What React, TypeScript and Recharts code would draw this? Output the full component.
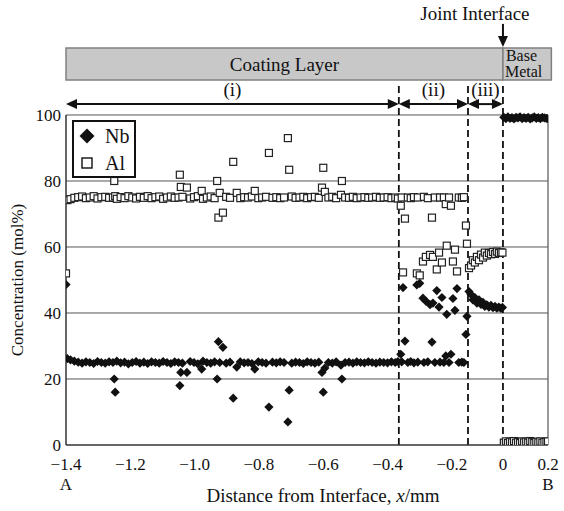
import React from 'react';
import {
  ScatterChart,
  Scatter,
  XAxis,
  YAxis,
  ReferenceLine,
  ReferenceArea,
  Legend,
} from 'recharts';

// ---------- DATA (distance in mm, concentration in mol%) ----------
// Zone (i): coating layer
const zone1Distance = [
  -1.4, -1.396, -1.386, -1.374, -1.362, -1.35, -1.338, -1.326, -1.314, -1.302, -1.29, -1.278, -1.266,
  -1.254, -1.25, -1.247, -1.242, -1.23, -1.218, -1.206, -1.194, -1.182, -1.17, -1.158, -1.146, -1.134,
  -1.122, -1.11, -1.098, -1.086, -1.074, -1.062, -1.05, -1.046, -1.043, -1.038, -1.024, -1.014, -1.002,
  -0.99, -0.978, -0.974, -0.962, -0.95, -0.938, -0.93, -0.926, -0.922, -0.912, -0.902, -0.89, -0.88,
  -0.869, -0.858, -0.846, -0.834, -0.822, -0.813, -0.802, -0.79, -0.778, -0.769, -0.758, -0.746, -0.734,
  -0.722, -0.71, -0.706, -0.698, -0.686, -0.674, -0.662, -0.65, -0.638, -0.626, -0.614, -0.604, -0.6,
  -0.595, -0.584, -0.572, -0.56, -0.545, -0.542, -0.532, -0.52, -0.508, -0.496, -0.484, -0.472, -0.46,
  -0.448, -0.436, -0.424, -0.412, -0.4, -0.388, -0.376, -0.368,
];
const zone1Nb = [
  48.6, 26.2, 25.8, 25.4, 25.1, 24.8, 25.2, 25.0, 24.7, 25.3, 25.0, 24.8, 25.2,
  25.0, 20.0, 16.0, 25.4, 24.9, 25.1, 24.6, 25.0, 25.3, 24.8, 25.1, 24.7, 25.2,
  25.0, 24.8, 25.3, 25.0, 24.7, 25.2, 25.0, 18.0, 22.0, 24.8, 22.0, 25.3, 25.0,
  24.6, 23.0, 25.4, 25.0, 24.8, 25.2, 20.0, 31.3, 25.0, 29.6, 24.8, 25.1, 14.2,
  23.6, 25.2, 24.9, 25.0, 24.7, 23.0, 25.2, 25.0, 24.8, 11.5, 25.1, 24.9, 25.2,
  25.0, 7.0, 16.6, 24.8, 25.1, 25.0, 24.7, 25.2, 25.0, 24.8, 25.1, 22.0, 16.0,
  23.3, 25.0, 24.8, 25.2, 24.2, 20.0, 25.0, 25.1, 24.8, 25.2, 25.0, 24.9, 25.2,
  25.0, 24.8, 25.1, 25.0, 24.9, 25.2, 25.0, 25.3,
];
const zone1Al = [
  52.0, 74.2, 74.5, 74.9, 75.1, 75.3, 74.8, 75.0, 75.4, 74.7, 75.1, 75.2, 74.9,
  75.0, 80.0, 75.4, 74.6, 75.1, 74.8, 75.4, 75.0, 74.7, 75.2, 74.9, 75.4, 74.8,
  75.1, 75.3, 74.6, 75.0, 75.3, 74.9, 75.0, 81.9, 78.2, 75.2, 78.0, 74.7, 75.1,
  75.4, 77.0, 74.6, 75.0, 75.3, 74.8, 80.0, 68.9, 76.4, 70.4, 75.2, 74.9, 85.8,
  76.4, 74.8, 75.1, 75.0, 75.3, 77.0, 74.8, 75.0, 75.2, 88.5, 74.9, 75.1, 74.8,
  75.0, 93.0, 83.4, 75.3, 74.9, 75.0, 75.2, 74.8, 75.1, 75.2, 74.9, 78.0, 84.0,
  76.7, 75.0, 75.2, 74.8, 75.8, 80.0, 75.0, 74.9, 75.2, 74.8, 75.0, 75.1, 74.9,
  75.0, 75.2, 74.9, 75.0, 75.1, 74.8, 75.0, 74.7,
];

// Zone (ii)
const zone2Distance = [
  -0.359, -0.356, -0.352, -0.346, -0.337, -0.328, -0.318, -0.309, -0.306, -0.3, -0.29, -0.287,
  -0.281, -0.275, -0.268, -0.262, -0.259, -0.253, -0.247, -0.24, -0.237, -0.231, -0.225, -0.219,
  -0.216, -0.209, -0.203, -0.196, -0.188, -0.18, -0.173, -0.161, -0.153, -0.145, -0.141,
];
const zone2Nb = [
  27.5, 25.2, 47.7, 31.5, 25.0, 25.3, 24.9, 48.5, 25.1, 49.0, 44.5, 25.0,
  43.6, 25.2, 42.5, 31.2, 43.0, 25.0, 46.8, 41.8, 25.1, 44.7, 25.0, 27.0,
  39.6, 25.0, 27.5, 44.4, 40.8, 47.4, 25.0, 25.1, 25.0, 33.5, 39.0,
];
const zone2Al = [
  72.5, 75.0, 52.3, 68.6, 75.0, 74.8, 75.1, 52.0, 75.0, 51.4, 55.6, 75.2,
  57.0, 74.8, 57.6, 68.9, 57.0, 75.0, 53.2, 58.3, 75.0, 55.3, 75.0, 73.0,
  60.4, 75.0, 72.5, 55.6, 59.2, 52.6, 75.0, 74.9, 75.1, 66.5, 61.0,
];

// Zone (iii)
const zone3Distance = [
  -0.133, -0.125, -0.118, -0.11, -0.102, -0.094, -0.086, -0.078, -0.071, -0.063, -0.055, -0.047,
  -0.039, -0.031, -0.024, -0.016, -0.008, -0.002,
];
const zone3Nb = [
  46.5, 45.6, 44.0, 44.7, 43.0, 44.0, 42.6, 43.2, 42.0, 42.5, 41.8, 42.3, 41.6, 42.0, 41.5, 41.8, 41.4, 41.7,
];
const zone3Al = [
  53.6, 54.4, 56.0, 55.3, 57.0, 56.0, 57.7, 56.8, 58.3, 57.4, 58.2, 57.8, 58.5, 57.9, 58.6, 58.2, 58.4, 58.3,
];

// Base metal
const baseDistance = [
  0.004, 0.013, 0.022, 0.031, 0.04, 0.049, 0.058, 0.067, 0.076, 0.085, 0.094, 0.103, 0.112, 0.121,
  0.13, 0.139, 0.148, 0.157, 0.166, 0.175, 0.184, 0.193, 0.2,
];
const baseNb = [
  99.3, 98.9, 99.4, 99.0, 99.2, 98.8, 99.3, 99.1, 99.4, 98.9, 99.2, 99.0, 99.3, 98.8,
  99.1, 99.4, 99.0, 99.2, 98.9, 99.3, 99.1, 99.0, 98.9,
];
const baseAl = [
  0.7, 1.1, 0.6, 1.0, 0.8, 1.2, 0.7, 0.9, 0.6, 1.1, 0.8, 1.0, 0.7, 1.2,
  0.9, 0.6, 1.0, 0.8, 1.1, 0.7, 0.9, 1.0, 1.1,
];

const seriesNames = ['Nb', 'Al'];
const xTickMm = [-1.4, -1.2, -1.0, -0.8, -0.6, -0.4, -0.2, 0, 0.2];
const xTickLabels = ['−1.4', '−1.2', '−1.0', '−0.8', '−0.6', '−0.4', '−0.2', '0', '0.2'];
const yTicks = [0, 20, 40, 60, 80, 100];
const zoneBoundsMm = [-1.4, -0.365, -0.137, 0];
const zoneLabels = ['(i)', '(ii)', '(iii)'];
const layerEdgesMm = [-1.4, 0, 0.215];

// ---------- broken (piecewise-linear) x axis ----------
const axisKnotsMm = [-1.4, -0.2, 0, 0.2];
const axisKnotsU = [-1.4, -0.2, -0.04125, 0.09883];
function toU(mm: number): number {
  const n = axisKnotsMm.length;
  for (let i = 0; i < n - 1; i++) {
    if (mm <= axisKnotsMm[i + 1] || i === n - 2) {
      const t = (mm - axisKnotsMm[i]) / (axisKnotsMm[i + 1] - axisKnotsMm[i]);
      return axisKnotsU[i] + t * (axisKnotsU[i + 1] - axisKnotsU[i]);
    }
  }
  return mm;
}
const U_MIN = toU(-1.4);
const U_MAX = toU(0.2);
const xTickU = xTickMm.map(toU);

// y positions of the annotations above the 0–100 frame (mol% units)
const Y_MAX = 134.24;
const BAR_TOP = 120.3;
const BAR_BOTTOM = 110.6;
const ARROW_Y = 103.3;
const DASH_TOP = 109.1;
const JOINT_TOP = 127.6;
const JOINT_BOTTOM = 120.6;

const FONT = '"Liberation Serif", "Times New Roman", serif';
const INK = '#111';

const allDistance = [...zone1Distance, ...zone2Distance, ...zone3Distance, ...baseDistance];
const allNb = [...zone1Nb, ...zone2Nb, ...zone3Nb, ...baseNb];
const allAl = [...zone1Al, ...zone2Al, ...zone3Al, ...baseAl];
const nbPoints = allDistance.map((d, i) => ({ u: toU(d), v: allNb[i] }));
const alPoints = allDistance.map((d, i) => ({ u: toU(d), v: allAl[i] }));

// ---------- shapes ----------
const Diamond = (p: any) => {
  const { cx, cy } = p;
  if (cx == null || cy == null) return null;
  const r = 4.6;
  return <path d={`M${cx},${cy - r}L${cx + r},${cy}L${cx},${cy + r}L${cx - r},${cy}Z`} fill={INK} />;
};
const OpenSquare = (p: any) => {
  const { cx, cy } = p;
  if (cx == null || cy == null) return null;
  return <rect x={cx - 3.5} y={cy - 3.5} width={7} height={7} fill="#fff" stroke="#222" strokeWidth={1.2} />;
};

const makeDoubleArrow = (label: string) => (p: any) => {
  const { x1, y1, x2, y2 } = p;
  const h = 11;
  const w = 5;
  return (
    <g>
      <line x1={x1 + h - 1} y1={y1} x2={x2 - h + 1} y2={y2} stroke={INK} strokeWidth={2} />
      <polygon points={`${x1},${y1} ${x1 + h},${y1 - w} ${x1 + h},${y1 + w}`} fill={INK} />
      <polygon points={`${x2},${y2} ${x2 - h},${y2 - w} ${x2 - h},${y2 + w}`} fill={INK} />
      <text x={(x1 + x2) / 2} y={y1 - 8} textAnchor="middle" fontFamily={FONT} fontSize={19} fill={INK}>
        {label}
      </text>
    </g>
  );
};

const JointArrow = (p: any) => {
  const { x1, y1, x2, y2 } = p;
  return (
    <g>
      <text x={x1 - 28} y={y1 - 4} textAnchor="middle" fontFamily={FONT} fontSize={19} fill={INK}>
        Joint Interface
      </text>
      <line x1={x1} y1={y1} x2={x2} y2={y2 - 9} stroke={INK} strokeWidth={2} />
      <polygon points={`${x2 - 5},${y2 - 11} ${x2 + 5},${y2 - 11} ${x2},${y2}`} fill={INK} />
    </g>
  );
};

const XTick = (props: any) => {
  const { x, y, payload } = props;
  const i = xTickU.findIndex((u) => Math.abs(u - payload.value) < 1e-6);
  return (
    <g>
      <text x={x} y={y} dy={17} textAnchor="middle" fontFamily={FONT} fontSize={17} fill={INK}>
        {xTickLabels[i]}
      </text>
      {i === 0 && (
        <text x={x} y={y} dy={37} textAnchor="middle" fontFamily={FONT} fontSize={17} fill={INK}>
          A
        </text>
      )}
      {i === xTickU.length - 1 && (
        <text x={x} y={y} dy={37} textAnchor="middle" fontFamily={FONT} fontSize={17} fill={INK}>
          B
        </text>
      )}
    </g>
  );
};

const LegendBox = () => (
  <div
    style={{
      border: `2px solid ${INK}`,
      background: '#fff',
      width: 64,
      height: 58,
      boxSizing: 'border-box',
      fontFamily: FONT,
      fontSize: 20,
      color: INK,
      position: 'relative',
    }}
  >
    {seriesNames.map((name, i) => (
      <div key={name} style={{ position: 'absolute', left: 3, top: 3 + i * 27, height: 22, display: 'flex', alignItems: 'center' }}>
        <svg width={20} height={20}>
          {i === 0 ? (
            <path d="M10,2.5L17.5,10L10,17.5L2.5,10Z" fill={INK} />
          ) : (
            <rect x={5} y={5} width={10} height={10} fill="#fff" stroke={INK} strokeWidth={1.4} />
          )}
        </svg>
        <span style={{ marginLeft: 8 }}>{name}</span>
      </div>
    ))}
  </div>
);

export default function App() {
  const uZero = toU(0);
  return (
    <div style={{ position: 'absolute', left: 0, top: 0 }}>
      <ScatterChart width={564} height={511} margin={{ top: 2, right: 16, bottom: 0, left: 6 }}>
        <XAxis
          type="number"
          dataKey="u"
          domain={[U_MIN, U_MAX]}
          allowDataOverflow
          ticks={xTickU}
          interval={0}
          tickLine={false}
          axisLine={{ stroke: '#333', strokeWidth: 1.5 }}
          tick={<XTick />}
          height={66}
          label={{
            content: (p: any) => {
              const vb = p.viewBox || { x: 66, y: 445, width: 482 };
              return (
                <text x={vb.x + vb.width / 2 + 16} y={vb.y + 57} textAnchor="middle" fontFamily={FONT} fontSize={19} fill={INK}>
                  Distance from Interface, <tspan fontStyle="italic">x</tspan>/mm
                </text>
              );
            },
          }}
        />
        <YAxis
          type="number"
          dataKey="v"
          domain={[0, Y_MAX]}
          allowDataOverflow
          ticks={yTicks}
          interval={0}
          axisLine={false}
          tickLine={false}
          tickSize={2}
          tickMargin={3}
          width={60}
          tick={{ fontFamily: FONT, fontSize: 17, fill: INK }}
          label={{
            content: (p: any) => {
              const vb = p.viewBox || { x: 6, y: 2, width: 60, height: 443 };
              const cx = vb.x + 12;
              const cy = vb.y + vb.height * (1 - 50 / Y_MAX);
              return (
                <text
                  x={cx}
                  y={cy}
                  transform={`rotate(-90 ${cx} ${cy})`}
                  textAnchor="middle"
                  dominantBaseline="central"
                  fontFamily={FONT}
                  fontSize={17}
                  fill={INK}
                >
                  Concentration (mol%)
                </text>
              );
            },
          }}
        />

        {/* horizontal grid lines */}
        {yTicks.slice(1).map((t) => (
          <ReferenceLine key={`g${t}`} y={t} stroke="#555" strokeWidth={1} />
        ))}

        {/* frame */}
        <ReferenceLine segment={[{ x: U_MIN, y: 0 }, { x: U_MIN, y: 100 }]} stroke="#333" strokeWidth={1.5} />
        <ReferenceLine segment={[{ x: U_MAX, y: 0 }, { x: U_MAX, y: 100 }]} stroke="#555" strokeWidth={1.2} />

        {/* layer bar */}
        <ReferenceArea
          x1={toU(layerEdgesMm[0])}
          x2={toU(layerEdgesMm[1])}
          y1={BAR_BOTTOM}
          y2={BAR_TOP}
          fill="#c8c8c8"
          fillOpacity={1}
          stroke="#808080"
          strokeWidth={1.5}
          ifOverflow="visible"
          label={{
            content: (p: any) => {
              const vb = p.viewBox;
              return (
                <text x={vb.x + vb.width / 2} y={vb.y + vb.height / 2 + 7} textAnchor="middle" fontFamily={FONT} fontSize={19} fill={INK}>
                  Coating Layer
                </text>
              );
            },
          }}
        />
        <ReferenceArea
          x1={toU(layerEdgesMm[1])}
          x2={toU(layerEdgesMm[2])}
          y1={BAR_BOTTOM}
          y2={BAR_TOP}
          fill="#c8c8c8"
          fillOpacity={1}
          stroke="#808080"
          strokeWidth={1.5}
          ifOverflow="visible"
          label={{
            content: (p: any) => {
              const vb = p.viewBox;
              return (
                <text fontFamily={FONT} fontSize={16} fill={INK}>
                  <tspan x={vb.x + 3} y={vb.y + 13}>Base</tspan>
                  <tspan x={vb.x + 2} y={vb.y + 29}>Metal</tspan>
                </text>
              );
            },
          }}
        />

        {/* joint interface arrow */}
        <ReferenceLine segment={[{ x: uZero, y: JOINT_TOP }, { x: uZero, y: JOINT_BOTTOM }]} shape={JointArrow} />

        {/* zone boundaries */}
        {zoneBoundsMm.slice(1).map((b) => (
          <ReferenceLine
            key={`d${b}`}
            segment={[{ x: toU(b), y: 0 }, { x: toU(b), y: DASH_TOP }]}
            stroke={INK}
            strokeWidth={1.8}
            strokeDasharray="7 4"
          />
        ))}
        {zoneLabels.map((lab, i) => (
          <ReferenceLine
            key={lab}
            segment={[{ x: toU(zoneBoundsMm[i]), y: ARROW_Y }, { x: toU(zoneBoundsMm[i + 1]), y: ARROW_Y }]}
            shape={makeDoubleArrow(lab)}
          />
        ))}

        <Scatter name="Al" data={alPoints} shape={OpenSquare} isAnimationActive={false} />
        <Scatter name="Nb" data={nbPoints} shape={Diamond} isAnimationActive={false} />

        <Legend
          layout="vertical"
          align="center"
          verticalAlign="middle"
          content={LegendBox}
          wrapperStyle={{ left: 72, top: 120, width: 64, height: 58 }}
        />
      </ScatterChart>
    </div>
  );
}
